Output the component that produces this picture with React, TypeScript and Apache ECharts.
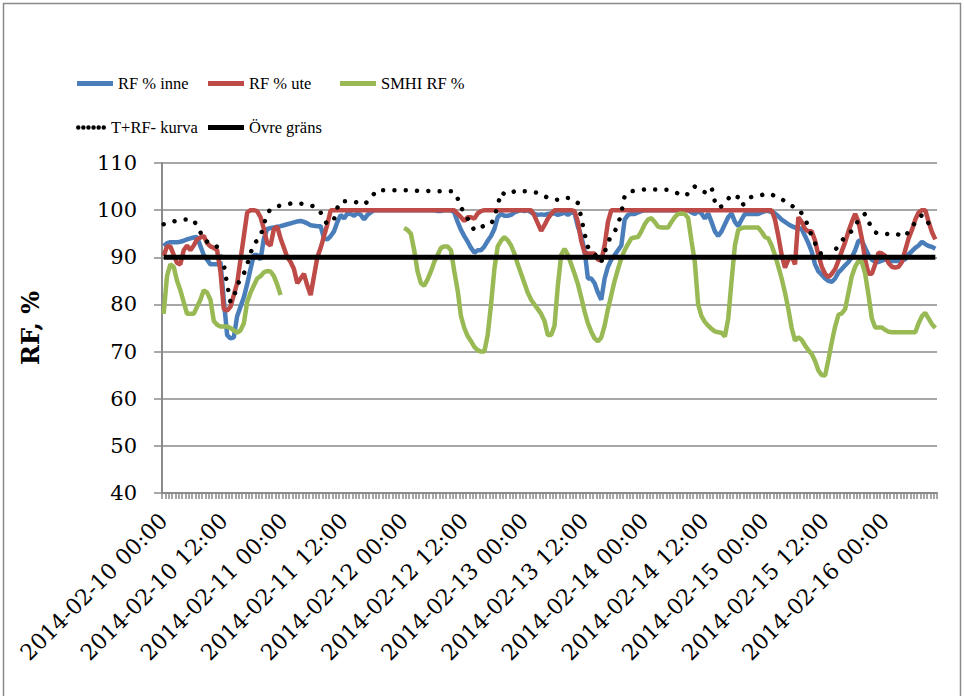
import React, { useEffect, useRef } from "react";
import * as echarts from "echarts";

// One category every 40 minutes from 2014-02-10 00:00
const START_UTC = Date.UTC(2014, 1, 10, 0, 0);
const STEP_MINUTES = 40;
const LABEL_EVERY = 18; // 12 hours

const rfInne: number[] = [
  92.4, 93, 93.2, 93.2, 93.2, 93.3, 93.5, 93.8, 94, 94.2,
  94.3, 92.4, 90.5, 89.5, 88.5, 88.5, 88.5, 89, 81, 73.5,
  72.8, 73, 77.5, 79.5, 81.5, 84.3, 87.5, 90.5, 90.5, 89.5,
  94, 96, 96.2, 96.3, 96.5, 96.6, 96.8, 97, 97.2, 97.4,
  97.6, 97.7, 97.5, 97.2, 96.8, 96.7, 96.6, 96.6, 94, 93.8,
  94.5, 95.5, 97.5, 99, 98.2, 99.3, 99.2, 98.8, 99.4, 99,
  98, 99, 99.5, 100, 100, 100, 100, 100, 100, 100,
  100, 100, 100, 100, 100, 100, 100, 100, 100, 100,
  100, 100, 99.8, 99.8, 100, 100, 100, 99.5, 97.5, 95.8,
  94.5, 93.3, 92, 91, 91.5, 91.5, 92.3, 93.5, 94.5, 96,
  98.5, 99.2, 98.8, 98.8, 99, 99.5, 99.8, 100, 99.8, 100,
  99.5, 99.2, 99, 99.1, 99, 99.2, 99.3, 99.3, 99, 99.2,
  99.5, 99, 99.5, 99.4, 96.5, 94.5, 91.5, 85.5, 85.5, 84.5,
  82.5, 81, 85.5, 88, 89.5, 90.5, 91.5, 92.5, 98, 99,
  99.2, 99.2, 99.5, 99.8, 100, 100, 100, 100, 100, 100,
  100, 100, 100, 100, 100, 100, 100, 100, 99.5, 99.2,
  99.8, 99.3, 98.2, 99.3, 97.5, 95.5, 94.5, 95.5, 97, 98.5,
  99.3, 97.5, 96.6, 98, 99.2, 99.2, 99.2, 99.2, 99.2, 99.5,
  99.8, 99.8, 99.6, 99.3, 98.7, 98, 97.5, 97, 96.6, 96.3,
  96.2, 96, 94.5, 93, 91.2, 88.5, 87, 86.3, 85.5, 85,
  84.8, 85.5, 86.8, 87.5, 88.3, 89, 90, 91.5, 93.5, 93.5,
  92, 90.5, 89.5, 89, 89, 89.3, 89.5, 89.4, 89.2, 89.2,
  89.2, 89.3, 89.6, 90.6, 91.3, 92, 92.5, 93.3, 92.8, 92.4,
  92.2, 91.8,
];

const rfUte: number[] = [
  90.3, 92.3, 92.3, 90.5, 88.8, 88.5, 91.5, 92.5, 91.5, 92.5,
  93.8, 94.2, 94.5, 93, 92.3, 92, 91.5, 87, 79, 78.7,
  79.5, 82, 84.5, 89.5, 94.5, 99.5, 100, 100, 99.8, 98.5,
  96, 93, 92.5, 96, 96.5, 94, 92, 90, 89, 87.5,
  84.5, 85.5, 86.5, 84, 82, 86, 90, 92, 94.5, 97,
  100, 100, 100, 100, 100, 100, 100, 100, 100, 100,
  100, 100, 100, 100, 100, 100, 100, 100, 100, 100,
  100, 100, 100, 100, 100, 100, 100, 100, 100, 100,
  100, 100, 100, 100, 100, 100, 100, 100, 99.2, 98.5,
  97.7, 98.5, 98.5, 98.2, 99.3, 99.8, 100, 100, 100, 100,
  100, 100, 100, 100, 100, 100, 100, 100, 100, 100,
  100, 98.8, 97.2, 95.6, 96.8, 98.2, 99.2, 100, 100, 100,
  100, 100, 100, 99.8, 97.5, 93.5, 91, 90.8, 90.8, 90.8,
  89.5, 89.3, 92.5, 97.5, 100, 100, 100, 100, 100, 100,
  100, 100, 100, 100, 100, 100, 100, 100, 100, 100,
  100, 100, 100, 100, 100, 100, 100, 100, 100, 100,
  100, 100, 100, 100, 100, 100, 100, 100, 100, 100,
  100, 100, 100, 100, 100, 100, 100, 100, 100, 100,
  100, 100, 100, 98, 94.5, 90.5, 87.8, 89.5, 90.3, 88.5,
  98.5, 97.5, 96, 95.5, 95.5, 93.5, 90.5, 88, 86.5, 85.8,
  86.5, 87.5, 89.3, 91.3, 93.2, 95.5, 97.5, 99.2, 97.5, 94,
  89.5, 86.5, 86.5, 88.5, 91, 90.8, 90.3, 88.8, 88, 87.8,
  88, 89, 91.5, 94, 95.8, 98, 99.5, 100, 100, 97.5,
  95.3, 93.8,
];

const smhiRf: (number | null)[] = [
  78, 86, 88.5, 88, 85, 83, 80.5, 78, 78, 78,
  79.5, 81, 83, 82.5, 81, 76.5, 75.7, 75.3, 75.3, 75.3,
  75, 74.5, 74, 74.5, 76, 80.5, 82.5, 84, 85.5, 86,
  86.8, 87.1, 87, 86, 84.2, 82, null, null, null, null,
  null, null, null, null, null, null, null, null, null, null,
  null, null, null, null, null, null, null, null, null, null,
  null, null, null, null, null, null, null, null, null, null,
  null, null, 96.2, 95.8, 95, 91.5, 87, 84.5, 84, 85.3,
  87, 89, 90.5, 92, 92.3, 92.3, 91.5, 87, 83, 77.5,
  75, 73.3, 72.2, 71, 70.3, 70, 70, 73.5, 80, 87.5,
  92.3, 93.5, 94.3, 93.6, 92.5, 90.8, 88.5, 86.5, 84.5, 82.5,
  81, 80, 79, 78, 76.5, 73.5, 73.5, 75.5, 84, 90.5,
  91.8, 90.5, 88.5, 86.5, 84.3, 81.5, 78.5, 76, 74.2, 72.8,
  72.2, 73, 75.5, 79, 82, 85, 87.5, 89.8, 91.5, 92.8,
  94, 94.2, 94.3, 95.5, 97, 98, 98.3, 97.5, 96.5, 96.3,
  96.3, 96.3, 97.5, 98.5, 99.2, 99.3, 99.2, 98.3, 93.5, 89,
  80, 77.5, 76.3, 75.5, 74.8, 74.3, 74.1, 74, 73.2, 77,
  85, 92.5, 95.8, 96.2, 96.3, 96.3, 96.3, 96.3, 96.3, 95.4,
  94.3, 94, 92.5, 90.5, 88, 85.5, 82.5, 79, 75, 72.3,
  73, 72.5, 71.3, 70.3, 69.5, 68, 66, 65, 64.9, 68.3,
  72, 75.3, 77.8, 78.1, 79, 82.5, 86, 88, 89.2, 89,
  86.5, 82, 77, 75.1, 75.1, 75.1, 74.6, 74.2, 74.1, 74.1,
  74.1, 74.1, 74.1, 74.1, 74.1, 74.1, 76, 77.5, 78.2, 77,
  75.8, 75,
];

const tRfKurva: number[] = [
  97, 97.3, 97.5, 97.6, 97.8, 97.9, 98, 98, 98, 97.9,
  96.5, 95.3, 93.8, 93.3, 93.1, 92.9, 92.2, 91, 88.5, 84.3,
  80.5, 81.5, 84, 85.5, 86.5, 88.5, 90.8, 93, 93.5, 94.5,
  97, 99.3, 100.2, 100.5, 100.8, 101, 101.1, 101.2, 101.4, 101.5,
  101.5, 101.4, 101.3, 101.2, 101, 100.8, 100.5, 99.5, 98, 97,
  97.5, 98.1, 100.5, 101.9, 101.9, 101.9, 101.8, 101.8, 101.6, 101.3,
  101.2, 101.8, 102.6, 103.5, 104.3, 104.2, 104.2, 104.2, 104.2, 104.2,
  104.2, 104.2, 104.2, 104.2, 104.2, 104.2, 104.1, 104.1, 104.1, 104.1,
  104, 104, 104, 104, 104, 104, 104, 103.9, 102.5, 100.5,
  99.6, 98.2, 97, 95.7, 96, 96.4, 96.7, 96.8, 97, 98.5,
  101, 103.8, 103.4, 103.2, 103.6, 104, 104.2, 104.1, 104, 104,
  103.9, 103.8, 103.7, 103.3, 103, 102.6, 102.4, 102.3, 102.2, 102.1,
  102.4, 102.6, 102.5, 102, 101.5, 98.5, 95, 92.2, 91.3, 90.8,
  89.2, 89, 91, 93.2, 94.5, 95.5, 96.8, 99.5, 103, 103.8,
  104, 104.1, 104.2, 104.3, 104.4, 104.4, 104.4, 104.4, 104.4, 104.4,
  104.3, 104.3, 104.1, 103.9, 103.5, 103.9, 103.6, 103.3, 104.2, 105,
  104.6, 104.2, 103.8, 104.3, 104.9, 101.8, 100.5, 100.8, 101.4, 102.4,
  103.3, 103.1, 102.7, 101, 101.5, 102.6, 102.8, 103, 103.1, 103.2,
  103.4, 103.5, 103.3, 103, 102.8, 102.4, 101.8, 101.3, 100.9, 100.6,
  100.3, 99.3, 98, 96.6, 94.4, 93, 91.8, 90.4, 89.8, 89.8,
  90.3, 91.5, 92.5, 93.5, 94.3, 95, 95.6, 96.5, 98, 98.8,
  99.2, 97.5, 96.3, 95.3, 95, 94.9, 94.9, 95, 95.1, 95.1,
  94.8, 94.5, 94.4, 95.5, 96.6, 97.3, 98, 99, 98.2, 97.2,
  96.3, 95.5,
];

// Upper limit for relative humidity
const OVRE_GRANS = 90;

const Y_MIN = 40;
const Y_MAX = 110;
const Y_STEP = 10;

const pad = (n: number) => String(n).padStart(2, "0");
const categories: string[] = rfInne.map((_, i) => {
  const d = new Date(START_UTC + i * STEP_MINUTES * 60000);
  return `${d.getUTCFullYear()}-${pad(d.getUTCMonth() + 1)}-${pad(d.getUTCDate())} ${pad(d.getUTCHours())}:${pad(d.getUTCMinutes())}`;
});
const ovreGrans: number[] = categories.map(() => OVRE_GRANS);

const SERIF = "'DejaVu Serif', 'Liberation Serif', serif";
const LEGEND_FONT = "'Liberation Serif', serif";

// Six round dots in a row, used as the legend key of the dotted series
const dotsIcon = (() => {
  const r = 2.25;
  let d = "path://";
  for (let k = 0; k < 6; k++) {
    const cx = r + k * 5.1;
    d += `M${cx - r},${r}a${r},${r} 0 1,0 ${2 * r},0a${r},${r} 0 1,0 ${-2 * r},0Z`;
  }
  return d;
})();

export default function App() {
  const ref = useRef<HTMLDivElement>(null);

  useEffect(() => {
    if (!ref.current) return;
    const chart = echarts.init(ref.current, undefined, { renderer: "svg" });

    const legendBase = {
      orient: "horizontal" as const,
      padding: 0,
      itemWidth: 36,
      itemHeight: 5,
      icon: "rect",
      selectedMode: false,
      itemStyle: { borderWidth: 0 },
      textStyle: { fontFamily: LEGEND_FONT, fontSize: 16.5, color: "#000" },
    };

    const line = (name: string, data: (number | null)[], color: string, width: number, extra: any = {}) => ({
      name,
      type: "line",
      data,
      symbol: "none",
      showSymbol: false,
      connectNulls: false,
      lineStyle: { color, width, ...extra },
      itemStyle: { color },
      emphasis: { disabled: true },
    });

    chart.setOption({
      animation: false,
      backgroundColor: "#fff",
      graphic: [
        {
          type: "rect",
          shape: { x: 3.5, y: 3.5, width: 957, height: 700 },
          style: { fill: "none", stroke: "#8a8a8a", lineWidth: 1.5 },
          silent: true,
        },
      ],
      legend: [
        { ...legendBase, data: ["RF % inne"], left: 77, top: 75 },
        { ...legendBase, data: ["RF % ute"], left: 208, top: 75 },
        { ...legendBase, data: ["SMHI RF %"], left: 340, top: 75 },
        { ...legendBase, data: ["T+RF- kurva"], left: 76, top: 119, icon: dotsIcon, itemWidth: 30, itemHeight: 4.5 },
        { ...legendBase, data: ["Övre gräns"], left: 208, top: 119 },
      ],
      grid: { left: 162, right: 27, top: 163, bottom: 203, containLabel: false },
      xAxis: {
        type: "category",
        data: categories,
        boundaryGap: true,
        axisLine: { show: true, lineStyle: { color: "#8a8a8a", width: 2 } },
        axisTick: { show: true, interval: 0, length: 6, lineStyle: { color: "#8a8a8a", width: 1.5 } },
        axisLabel: {
          interval: (index: number) => index % LABEL_EVERY === 0,
          rotate: 45,
          margin: 24,
          fontFamily: SERIF,
          fontSize: 22,
          color: "#000",
        },
        splitLine: { show: false },
      },
      yAxis: {
        type: "value",
        min: Y_MIN,
        max: Y_MAX,
        interval: Y_STEP,
        name: "RF, %",
        nameLocation: "middle",
        nameRotate: 90,
        nameGap: 120,
        nameTextStyle: { fontFamily: SERIF, fontWeight: "bold", fontSize: 24, color: "#000" },
        axisLine: { show: true, lineStyle: { color: "#8a8a8a", width: 2 } },
        axisTick: { show: true, length: 8, lineStyle: { color: "#8a8a8a", width: 1.5 } },
        axisLabel: { margin: 25, fontFamily: SERIF, fontSize: 21, color: "#000" },
        splitLine: { show: true, lineStyle: { color: "#8a8a8a", width: 1.5 } },
      },
      series: [
        line("RF % inne", rfInne, "#4A7EBB", 4.5),
        line("RF % ute", rfUte, "#BE4B48", 4.5),
        line("SMHI RF %", smhiRf, "#98B954", 4.5),
        line("T+RF- kurva", tRfKurva, "#000000", 4.5, { type: [0.001, 11.3], cap: "round" }),
        line("Övre gräns", ovreGrans, "#000000", 5),
      ],
    });

    return () => chart.dispose();
  }, []);

  return (
    <div
      ref={ref}
      style={{ position: "absolute", left: 0, top: 0, width: 964, height: 696, background: "#fff" }}
    />
  );
}
